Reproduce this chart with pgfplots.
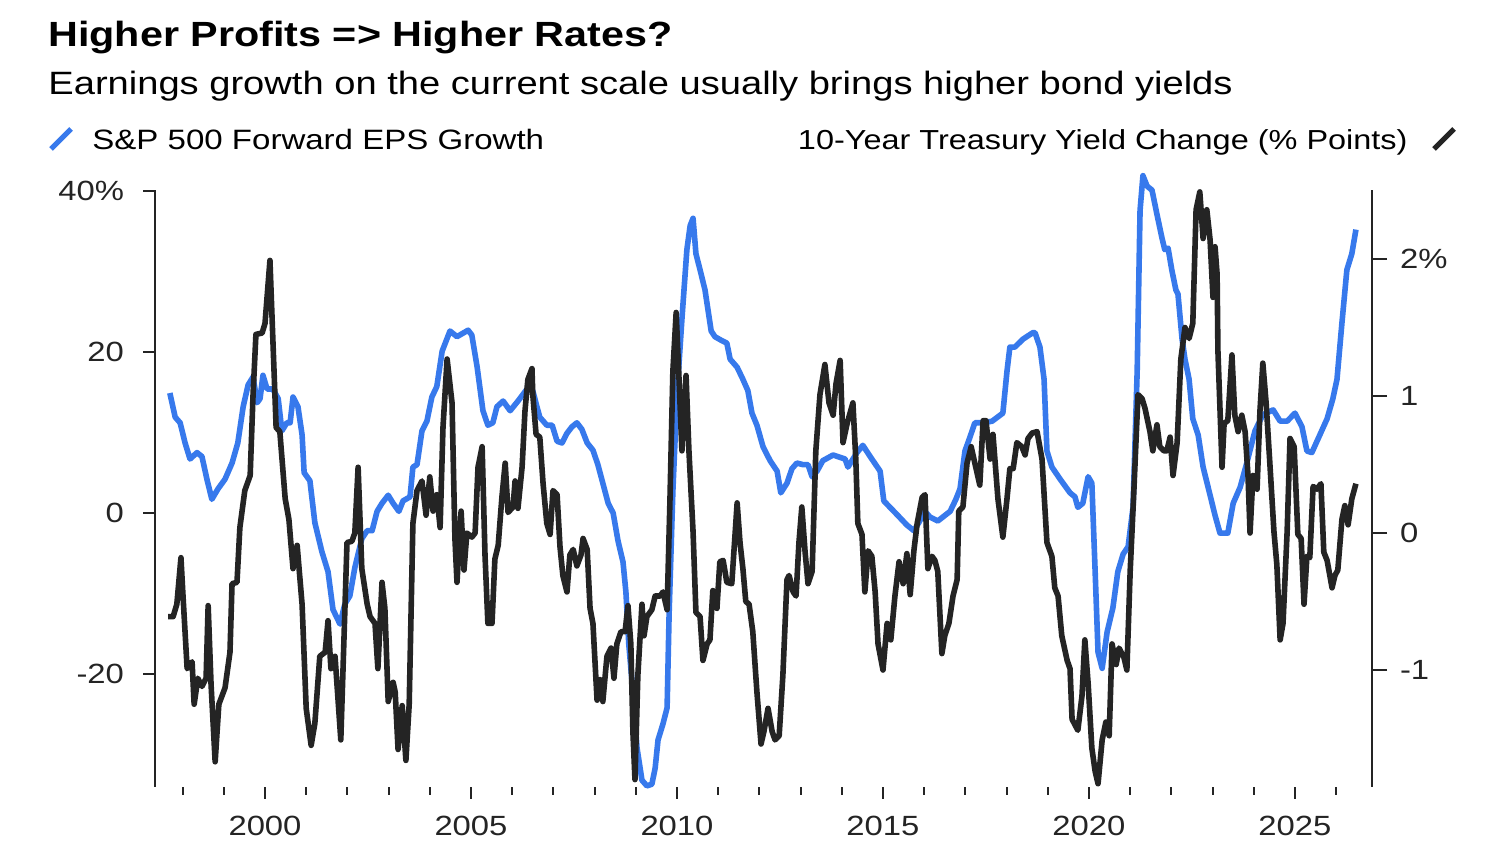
\documentclass[border=0pt]{standalone}
\usepackage{fontspec}
\setmainfont{Liberation Sans}[FakeStretch=1.18]
\usepackage{pgfplots}
\pgfplotsset{compat=1.18}
\definecolor{bblue}{RGB}{55,121,236}
\definecolor{bblack}{RGB}{36,36,36}
\begin{document}
\begin{tikzpicture}
\useasboundingbox (0,0) rectangle (750pt,425pt);
\fill[white] (0,0) rectangle (750pt,425pt);
% titles
\node[anchor=base west,inner sep=0pt] at (24pt,401.5pt) {\fontsize{17.5}{20}\selectfont\bfseries Higher Profits => Higher Rates?};
\node[anchor=base west,inner sep=0pt] at (24pt,377.5pt) {\fontsize{16.15}{19}\selectfont Earnings growth on the current scale usually brings higher bond yields};
% legend
\draw[bblue,line width=2.6pt] (25.5pt,350.5pt) -- (35.5pt,360.5pt);
\node[anchor=base west,inner sep=0pt] at (46pt,350pt) {\fontsize{14}{17}\selectfont S\&P 500 Forward EPS Growth};
\node[anchor=base east,inner sep=0pt] at (704pt,350pt) {\fontsize{13.75}{17}\selectfont 10-Year Treasury Yield Change (\% Points)};
\draw[bblack,line width=2.6pt] (717pt,350.5pt) -- (727pt,360.5pt);

\begin{axis}[
  at={(77.5pt,31.5pt)}, anchor=south west,
  scale only axis, width=608.5pt, height=298.5pt,
  xmin=1997.33, xmax=2026.87,
  ymin=-34.04, ymax=40.12,
  clip=false,
  axis y line*=left, axis x line*=bottom,
  x axis line style={draw=none},
  y axis line style={line width=0.9pt, bblack},
  tick align=outside,
  xtick={2000,2005,2010,2015,2020,2025},
  xticklabels={2000,2005,2010,2015,2020,2025},
  minor xtick={1998,1999,2001,2002,2003,2004,2006,2007,2008,2009,2011,2012,2013,2014,2016,2017,2018,2019,2021,2022,2023,2024,2026},
  major x tick style={line width=1pt,bblack},
  minor x tick style={line width=1pt,bblack},
  major tick length=6pt, minor tick length=4pt,
  ytick={-20,0,20,40},
  yticklabels={-20,0,20,40\%},
  y tick style={line width=0.9pt,bblack},
  every tick label/.append style={font=\fontsize{13.9}{16}\selectfont, text=bblack},
  yticklabel style={xshift=-6pt},
  xticklabel style={yshift=-5pt},
]
\addplot[bblue, line width=2.8pt, line join=round] coordinates {
(1997.69,14.9)(1997.82,11.9)(1997.94,11.2)(1998.06,8.7)(1998.18,6.7)(1998.35,7.5)(1998.47,7.0)(1998.59,4.2)(1998.71,1.7)(1998.86,3.0)
(1999.03,4.2)(1999.20,6.2)(1999.34,8.7)(1999.47,13.2)(1999.59,15.9)(1999.71,16.9)(1999.81,13.7)(1999.88,14.2)(1999.95,17.1)(2000.05,15.4)
(2000.19,15.4)(2000.32,14.2)(2000.41,10.2)(2000.53,11.2)(2000.61,11.2)(2000.68,14.4)(2000.80,13.2)(2000.90,9.7)(2000.95,5.0)(2001.09,4.0)
(2001.21,-1.2)(2001.38,-4.8)(2001.53,-7.3)(2001.65,-12.0)(2001.82,-13.8)(2001.94,-11.3)(2002.06,-10.3)(2002.18,-6.8)(2002.35,-3.2)(2002.48,-2.2)
(2002.60,-2.2)(2002.72,0.2)(2002.84,1.2)(2002.99,2.2)(2003.11,1.2)(2003.25,0.2)(2003.35,1.5)(2003.52,2.0)(2003.59,5.7)(2003.69,6.0)
(2003.81,10.2)(2003.93,11.4)(2004.05,14.4)(2004.17,15.7)(2004.30,20.1)(2004.49,22.6)(2004.66,21.9)(2004.93,22.7)(2005.02,22.1)(2005.15,18.1)
(2005.29,12.7)(2005.41,10.9)(2005.53,11.2)(2005.63,13.2)(2005.78,13.9)(2005.95,12.7)(2006.14,13.9)(2006.36,15.4)(2006.50,15.2)(2006.60,13.2)
(2006.67,11.9)(2006.84,10.9)(2006.97,10.9)(2007.09,8.9)(2007.21,8.7)(2007.33,9.9)(2007.45,10.7)(2007.57,11.2)(2007.69,10.4)(2007.82,8.7)
(2007.96,7.8)(2008.08,6.0)(2008.20,3.7)(2008.33,1.2)(2008.45,0.0)(2008.57,-3.5)(2008.69,-6.1)(2008.76,-9.8)(2008.83,-16.3)(2008.93,-22.2)
(2009.03,-29.2)(2009.15,-33.2)(2009.27,-33.9)(2009.39,-33.7)(2009.47,-31.7)(2009.54,-28.2)(2009.66,-26.2)(2009.76,-24.2)(2009.81,-12.3)(2009.90,2.7)
(2010.00,14.7)(2010.12,24.1)(2010.24,32.7)(2010.32,35.7)(2010.39,36.6)(2010.46,32.2)(2010.56,30.2)(2010.68,27.7)(2010.83,22.6)(2010.92,21.9)
(2011.09,21.4)(2011.21,21.1)(2011.29,19.1)(2011.46,18.1)(2011.60,16.6)(2011.72,15.2)(2011.82,12.4)(2011.94,10.9)(2012.09,8.2)(2012.26,6.5)
(2012.43,5.2)(2012.52,2.5)(2012.67,3.7)(2012.79,5.5)(2012.91,6.2)(2013.06,6.0)(2013.18,6.0)(2013.28,4.5)(2013.40,5.2)(2013.54,6.5)
(2013.79,7.2)(2014.08,6.7)(2014.15,5.7)(2014.37,7.5)(2014.51,8.4)(2014.73,6.7)(2014.93,5.2)(2015.02,1.5)(2015.17,0.7)(2015.34,-0.2)
(2015.58,-1.5)(2015.75,-2.2)(2015.87,-1.2)(2016.02,0.2)(2016.14,-0.5)(2016.33,-1.0)(2016.63,0.2)(2016.77,1.7)(2016.87,3.0)(2016.99,7.7)
(2017.11,9.4)(2017.23,11.2)(2017.43,11.2)(2017.65,11.4)(2017.91,12.4)(2018.01,17.6)(2018.08,20.6)(2018.20,20.6)(2018.40,21.6)(2018.64,22.4)
(2018.69,22.4)(2018.81,20.6)(2018.91,16.6)(2018.98,7.7)(2019.10,5.7)(2019.30,4.2)(2019.54,2.5)(2019.66,2.0)(2019.73,0.7)(2019.85,1.2)
(2019.98,4.5)(2020.07,3.7)(2020.15,-7.3)(2020.22,-17.3)(2020.32,-19.3)(2020.44,-14.8)(2020.58,-11.8)(2020.70,-7.3)(2020.83,-5.1)(2020.95,-4.2)
(2021.07,0.7)(2021.17,17.6)(2021.24,37.6)(2021.31,41.9)(2021.41,40.6)(2021.53,40.1)(2021.65,37.1)(2021.77,34.2)(2021.84,32.7)(2021.92,32.9)
(2022.01,30.2)(2022.11,27.7)(2022.16,27.2)(2022.26,21.6)(2022.33,19.1)(2022.43,16.6)(2022.52,11.7)(2022.65,9.7)(2022.77,5.7)(2022.94,2.2)
(2023.06,-0.3)(2023.18,-2.5)(2023.37,-2.5)(2023.50,1.2)(2023.67,3.2)(2023.83,6.2)(2024.03,10.2)(2024.22,12.2)(2024.47,12.8)(2024.64,11.4)
(2024.81,11.4)(2025.00,12.4)(2025.17,10.7)(2025.29,7.7)(2025.41,7.5)(2025.56,9.2)(2025.78,11.7)(2025.92,14.2)(2026.02,16.6)(2026.14,23.6)
(2026.26,30.2)(2026.38,32.2)(2026.48,35.2)
};
\end{axis}

\begin{axis}[
  at={(77.5pt,31.5pt)}, anchor=south west,
  scale only axis, width=608.5pt, height=298.5pt,
  xmin=1997.33, xmax=2026.87,
  ymin=-1.854, ymax=2.504,
  clip=false,
  axis x line=none,
  axis y line*=right,
  y axis line style={line width=0.9pt, bblack},
  tick align=outside,
  major tick length=7.5pt,
  ytick={-1,0,1,2},
  yticklabels={-1,0,1,2\%},
  y tick style={line width=0.9pt,bblack},
  every tick label/.append style={font=\fontsize{13.9}{16}\selectfont, text=bblack},
  yticklabel style={xshift=3pt},
]
\addplot[bblack, line width=2.8pt, line join=round] coordinates {
(1997.65,-0.61)(1997.77,-0.61)(1997.86,-0.52)(1997.96,-0.18)(1998.01,-0.46)(1998.11,-0.99)(1998.23,-0.94)(1998.28,-1.25)(1998.37,-1.06)(1998.47,-1.12)
(1998.57,-1.06)(1998.62,-0.53)(1998.69,-1.10)(1998.79,-1.67)(1998.88,-1.25)(1999.03,-1.13)(1999.15,-0.87)(1999.20,-0.37)(1999.32,-0.36)(1999.39,0.04)
(1999.51,0.31)(1999.64,0.42)(1999.71,1.01)(1999.78,1.45)(1999.93,1.46)(2000.00,1.53)(2000.12,1.99)(2000.19,1.42)(2000.27,0.77)(2000.36,0.74)
(2000.49,0.25)(2000.58,0.10)(2000.68,-0.26)(2000.78,-0.09)(2000.90,-0.52)(2001.00,-1.28)(2001.12,-1.55)(2001.21,-1.39)(2001.33,-0.90)(2001.46,-0.87)
(2001.53,-0.64)(2001.60,-0.99)(2001.70,-0.90)(2001.84,-1.51)(2001.99,-0.07)(2002.11,-0.06)(2002.18,0.00)(2002.26,0.48)(2002.35,-0.26)(2002.48,-0.52)
(2002.55,-0.61)(2002.67,-0.66)(2002.74,-0.99)(2002.84,-0.36)(2002.91,-0.55)(2002.99,-1.23)(2003.11,-1.09)(2003.16,-1.16)(2003.23,-1.58)(2003.33,-1.26)
(2003.42,-1.66)(2003.50,-1.25)(2003.59,0.07)(2003.69,0.31)(2003.81,0.38)(2003.91,0.13)(2004.00,0.41)(2004.08,0.16)(2004.17,0.28)(2004.25,0.04)
(2004.32,0.77)(2004.42,1.27)(2004.54,0.95)(2004.61,-0.04)(2004.66,-0.36)(2004.76,0.16)(2004.83,-0.27)(2004.90,0.00)(2005.02,-0.03)(2005.10,0.00)
(2005.17,0.48)(2005.27,0.63)(2005.34,-0.16)(2005.41,-0.66)(2005.51,-0.66)(2005.58,-0.19)(2005.66,-0.09)(2005.75,0.26)(2005.83,0.51)(2005.90,0.15)
(2006.02,0.19)(2006.07,0.38)(2006.14,0.18)(2006.24,0.48)(2006.31,0.89)(2006.38,1.12)(2006.48,1.20)(2006.50,1.01)(2006.58,0.72)(2006.67,0.70)
(2006.75,0.36)(2006.84,0.07)(2006.92,-0.01)(2006.99,0.31)(2007.09,0.28)(2007.16,-0.10)(2007.23,-0.31)(2007.33,-0.43)(2007.40,-0.16)(2007.48,-0.12)
(2007.57,-0.24)(2007.67,-0.16)(2007.72,-0.04)(2007.82,-0.12)(2007.89,-0.55)(2007.96,-0.66)(2008.06,-1.22)(2008.13,-1.07)(2008.20,-1.23)(2008.30,-0.90)
(2008.40,-0.84)(2008.47,-1.06)(2008.54,-0.81)(2008.64,-0.72)(2008.74,-0.72)(2008.81,-0.53)(2008.88,-0.81)(2008.93,-1.45)(2008.98,-1.80)(2009.05,-1.04)
(2009.15,-0.52)(2009.20,-0.75)(2009.27,-0.61)(2009.39,-0.56)(2009.47,-0.46)(2009.59,-0.46)(2009.66,-0.43)(2009.76,-0.56)(2009.83,0.25)(2009.90,1.18)
(2009.98,1.61)(2010.05,1.12)(2010.12,0.60)(2010.22,1.15)(2010.29,0.60)(2010.39,0.01)(2010.46,-0.58)(2010.56,-0.61)(2010.63,-0.93)(2010.73,-0.81)
(2010.80,-0.78)(2010.87,-0.42)(2010.97,-0.55)(2011.04,-0.21)(2011.12,-0.20)(2011.21,-0.36)(2011.33,-0.37)(2011.46,0.22)(2011.53,-0.07)(2011.60,-0.26)
(2011.67,-0.50)(2011.75,-0.52)(2011.84,-0.72)(2011.94,-1.16)(2012.04,-1.54)(2012.11,-1.45)(2012.21,-1.28)(2012.31,-1.45)(2012.38,-1.51)(2012.48,-1.48)
(2012.57,-1.04)(2012.67,-0.34)(2012.72,-0.31)(2012.82,-0.43)(2012.89,-0.46)(2012.96,-0.07)(2013.03,0.19)(2013.11,-0.14)(2013.18,-0.37)(2013.28,-0.28)
(2013.37,0.60)(2013.47,1.01)(2013.59,1.23)(2013.69,0.95)(2013.79,0.86)(2013.86,1.09)(2013.96,1.26)(2014.03,0.66)(2014.13,0.80)(2014.27,0.95)
(2014.34,0.54)(2014.39,0.07)(2014.49,-0.01)(2014.56,-0.43)(2014.64,-0.13)(2014.73,-0.17)(2014.81,-0.43)(2014.88,-0.81)(2015.00,-1.00)(2015.10,-0.66)
(2015.19,-0.78)(2015.29,-0.46)(2015.39,-0.21)(2015.49,-0.37)(2015.58,-0.15)(2015.66,-0.45)(2015.75,-0.13)(2015.83,0.07)(2015.95,0.26)(2016.02,0.28)
(2016.09,-0.26)(2016.19,-0.17)(2016.26,-0.20)(2016.33,-0.28)(2016.43,-0.88)(2016.50,-0.75)(2016.60,-0.66)(2016.70,-0.46)(2016.80,-0.34)(2016.84,0.16)
(2016.94,0.19)(2017.04,0.51)(2017.14,0.63)(2017.23,0.51)(2017.35,0.35)(2017.43,0.82)(2017.50,0.82)(2017.60,0.54)(2017.67,0.72)(2017.79,0.25)
(2017.91,-0.03)(2018.01,0.25)(2018.08,0.47)(2018.16,0.47)(2018.25,0.66)(2018.37,0.63)(2018.45,0.57)(2018.52,0.69)(2018.62,0.73)(2018.74,0.74)
(2018.86,0.54)(2018.98,-0.07)(2019.10,-0.17)(2019.17,-0.40)(2019.25,-0.46)(2019.34,-0.75)(2019.47,-0.93)(2019.54,-0.99)(2019.59,-1.36)(2019.73,-1.44)
(2019.83,-1.19)(2019.90,-0.78)(2019.98,-1.10)(2020.07,-1.57)(2020.15,-1.74)(2020.22,-1.83)(2020.32,-1.51)(2020.41,-1.38)(2020.49,-1.48)(2020.56,-0.81)
(2020.66,-0.96)(2020.73,-0.84)(2020.85,-0.91)(2020.92,-1.00)(2021.00,-0.28)(2021.09,0.31)(2021.19,1.01)(2021.29,0.98)(2021.36,0.91)(2021.48,0.74)
(2021.55,0.60)(2021.65,0.79)(2021.72,0.63)(2021.82,0.60)(2021.89,0.60)(2021.97,0.70)(2022.04,0.42)(2022.14,0.66)(2022.23,1.27)(2022.33,1.50)
(2022.43,1.42)(2022.52,1.53)(2022.60,2.36)(2022.69,2.49)(2022.77,2.15)(2022.86,2.36)(2022.94,2.14)(2023.01,1.72)(2023.06,2.09)(2023.11,1.89)
(2023.13,1.33)(2023.23,0.48)(2023.28,0.80)(2023.37,0.82)(2023.47,1.30)(2023.54,0.86)(2023.62,0.74)(2023.71,0.86)(2023.79,0.74)(2023.86,0.42)
(2023.91,0.00)(2023.98,0.42)(2024.08,0.32)(2024.15,0.89)(2024.22,1.24)(2024.30,0.95)(2024.39,0.51)(2024.49,0.01)(2024.56,-0.23)(2024.64,-0.78)
(2024.71,-0.66)(2024.81,0.01)(2024.88,0.69)(2024.98,0.63)(2025.07,-0.01)(2025.15,-0.04)(2025.22,-0.52)(2025.29,-0.17)(2025.36,-0.18)(2025.44,0.34)
(2025.53,0.32)(2025.63,0.36)(2025.70,-0.14)(2025.78,-0.20)(2025.90,-0.40)(2025.97,-0.31)(2026.04,-0.27)(2026.14,0.10)(2026.21,0.20)(2026.29,0.06)
(2026.38,0.25)(2026.48,0.36)
};
\end{axis}
\end{tikzpicture}
\end{document}
